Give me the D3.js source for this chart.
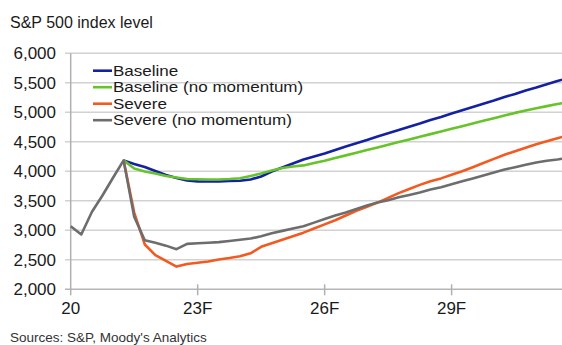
<!DOCTYPE html>
<html>
<head>
<meta charset="utf-8">
<script src="https://cdn.jsdelivr.net/npm/d3@7"></script>
<style>
  body { margin: 0; background: #fff; }
  text { font-family: Arial, "Liberation Sans", sans-serif; fill: #1a1a1a; }
</style>
</head>
<body>
<div class="chart"></div>
<script>
// quarterly points, 2020Q1 .. 2031Q4
const quarters = d3.range(0, 48).map((i) => `${2020 + Math.floor(i / 4)}Q${(i % 4) + 1}`);
const tickQuarters = ['2020Q1', '2023Q1', '2026Q1', '2029Q1'];
const tickLabels = ['20', '23F', '26F', '29F'];
const yTicks = [2000, 2500, 3000, 3500, 4000, 4500, 5000, 5500, 6000];

// actuals 2020Q1 .. 2021Q2
const history = [3070, 2930, 3310, 3590, 3890, 4185];

// forecasts start at 2021Q2
const baseline = [4185, 4124, 4073, 4005, 3937, 3886, 3844, 3830, 3827, 3827, 3835, 3840, 3861,
  3912, 3997, 4064, 4132, 4200, 4250, 4300, 4360, 4420, 4475, 4530, 4590, 4645, 4700, 4755,
  4810, 4870, 4920, 4980, 5035, 5090, 5145, 5200, 5260, 5310, 5370, 5420, 5475, 5530, 5580];
const baselineNoMom = [4185, 4047, 3997, 3963, 3920, 3895, 3869, 3864, 3861, 3861, 3869, 3881,
  3920, 3963, 4014, 4056, 4081, 4100, 4140, 4180, 4225, 4270, 4315, 4360, 4405, 4450, 4495,
  4540, 4585, 4630, 4675, 4720, 4765, 4810, 4855, 4900, 4945, 4990, 5030, 5070, 5105, 5140, 5170];
const severe = [4185, 3300, 2760, 2580, 2480, 2385, 2430, 2450, 2470, 2505, 2530, 2560, 2610,
  2720, 2780, 2840, 2900, 2960, 3030, 3100, 3170, 3250, 3330, 3400, 3470, 3550, 3630, 3700,
  3770, 3830, 3880, 3940, 4000, 4070, 4140, 4210, 4280, 4340, 4400, 4460, 4510, 4560, 4610];
const severeNoMom = [4185, 3230, 2830, 2790, 2740, 2680, 2770, 2780, 2790, 2800, 2820, 2840,
  2860, 2900, 2950, 2990, 3030, 3070, 3130, 3190, 3250, 3300, 3360, 3420, 3470, 3510, 3560,
  3600, 3640, 3690, 3730, 3780, 3830, 3880, 3930, 3980, 4030, 4070, 4110, 4150, 4180, 4200, 4230];

const seriesNames = ['Baseline', 'Baseline (no momentum)', 'Severe', 'Severe (no momentum)'];
const colors = ['#1421a3', '#66c42a', '#f25a1f', '#6d6d6d'];

const width = 562;
const height = 345;

const svg = d3.select('.chart')
  .append('svg')
  .attr('width', width)
  .attr('height', height);

const x = d3.scaleLinear()
  .domain([0, quarters.length - 1])
  .range([70.7, 568]);

const y = d3.scaleLinear()
  .domain([2000, 6000])
  .range([289.3, 53.3]);

// title
svg.append('text')
  .attr('x', 10)
  .attr('y', 28)
  .style('font-size', '16px')
  .text('S&P 500 index level');

// gridlines (they also stick out left of the axis as ticks)
svg.append('g')
  .selectAll('line')
  .data(yTicks)
  .enter()
  .append('line')
  .attr('x1', 65)
  .attr('x2', width)
  .attr('y1', (d) => y(d))
  .attr('y2', (d) => y(d))
  .attr('stroke', (d) => (d === 2000 ? '#b5b5b5' : '#d2d2d2'))
  .attr('stroke-width', 1.5);

// y axis line
svg.append('line')
  .attr('x1', x(0))
  .attr('x2', x(0))
  .attr('y1', y(6000))
  .attr('y2', y(2000) + 6)
  .attr('stroke', '#b0b0b0')
  .attr('stroke-width', 1.5);

// y labels
svg.append('g')
  .selectAll('text')
  .data(yTicks)
  .enter()
  .append('text')
  .attr('x', 56)
  .attr('y', (d) => y(d))
  .attr('dy', '0.35em')
  .attr('text-anchor', 'end')
  .style('font-size', '17px')
  .text((d) => d3.format(',')(d));

// x ticks + labels
const xTickPos = tickQuarters.map((q) => quarters.indexOf(q));
svg.append('g')
  .selectAll('line')
  .data(xTickPos.slice(1))
  .enter()
  .append('line')
  .attr('x1', (d) => x(d))
  .attr('x2', (d) => x(d))
  .attr('y1', y(2000) - 5)
  .attr('y2', y(2000) + 6)
  .attr('stroke', '#b0b0b0')
  .attr('stroke-width', 1.5);

svg.append('g')
  .selectAll('text')
  .data(xTickPos)
  .enter()
  .append('text')
  .attr('x', (d) => x(d))
  .attr('y', 314)
  .attr('text-anchor', 'middle')
  .style('font-size', '17px')
  .text((d, i) => tickLabels[i]);

// lines
const line = d3.line()
  .x((d) => x(d.i))
  .y((d) => y(d.v));

const start = history.length - 1;
const allSeries = [baseline, baselineNoMom, severe, severeNoMom].map((s, k) => {
  const pts = s.map((v, j) => ({ i: start + j, v }));
  // history is drawn with the last series (grey)
  if (k === 3) return history.map((v, j) => ({ i: j, v })).concat(pts.slice(1));
  return pts;
});

svg.append('g')
  .selectAll('path')
  .data(allSeries)
  .enter()
  .append('path')
  .attr('d', line)
  .attr('fill', 'none')
  .attr('stroke', (d, k) => colors[k])
  .attr('stroke-width', 2.6)
  .attr('stroke-linejoin', 'round');

// legend - rows are tight, so the text is a bit smaller and stretched wide
const legend = svg.append('g')
  .selectAll('g')
  .data(seriesNames)
  .enter()
  .append('g')
  .attr('transform', (d, k) => `translate(93,${70.7 + k * 16.5})`);

legend.append('line')
  .attr('x1', 0)
  .attr('x2', 19)
  .attr('stroke', (d, k) => colors[k])
  .attr('stroke-width', 2.6);

legend.append('text')
  .attr('transform', 'translate(20,0) scale(1.2,1)')
  .attr('dy', '0.36em')
  .style('font-size', '14.2px')
  .text((d) => d);

// source
svg.append('text')
  .attr('x', 10)
  .attr('y', 342)
  .style('font-size', '13.5px')
  .style('fill', '#333')
  .text("Sources: S&P, Moody's Analytics");
</script>
</body>
</html>
